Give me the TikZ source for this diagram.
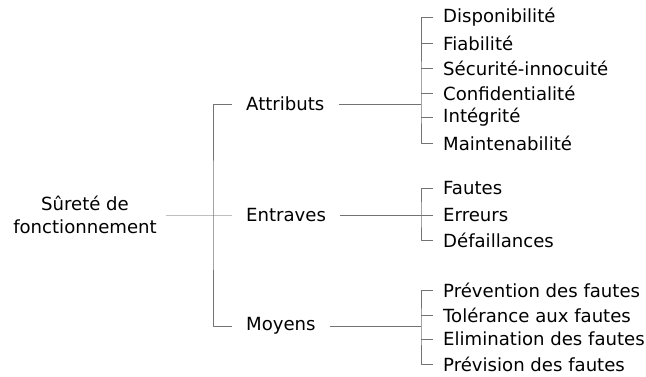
\documentclass[tikz,border=0pt]{standalone}
\usepackage{fontspec}
\setmainfont{DejaVu Sans}
\begin{document}
\begin{tikzpicture}[x=1pt,y=-1pt,line join=round,font=\fontsize{18.1}{23}\selectfont,
	branche/.style={draw=black!55,line width=0.9pt},
	racine/.style={draw=black!25,line width=0.9pt},
	groupe/.style={anchor=west,inner xsep=14pt,inner ysep=0pt},
	feuille/.style={anchor=west,inner xsep=10pt,inner ysep=0pt}]
		\useasboundingbox (0,0) rectangle (646,376);
		% racine et groupes
		\node[align=center,inner xsep=9pt] (sdf) at (85,215) {Sûreté de\\fonctionnement};
		\node[groupe] (attr) at (232,104) {Attributs};
		\node[groupe] (entr) at (232,215) {Entraves};
		\node[groupe] (moy) at (232,326) {Moyens};
		\coordinate (g) at (213,215);
		\draw[racine] (sdf) -- (entr.west);
		\draw[branche] (attr.west) -| (g) |- (moy.west);
		% attributs
		\coordinate (ga) at (421,104);
		\node[feuille] (a1) at (433,17) {Disponibilité};
		\node[feuille] (a2) at (433,43) {Fiabilité};
		\node[feuille] (a3) at (433,68) {Sécurité-innocuité};
		\node[feuille] (a4) at (433,93) {Confidentialité};
		\node[feuille] (a5) at (433,117) {Intégrité};
		\node[feuille] (a6) at (433,143) {Maintenabilité};
		\draw[branche] (attr) -- (ga);
		\draw[branche] (a1.west) -| (ga) |- (a6.west);
		\draw[branche] (ga |- a2.west) -- (a2.west);
		\draw[branche] (ga |- a3.west) -- (a3.west);
		\draw[branche] (ga |- a4.west) -- (a4.west);
		\draw[branche] (ga |- a5.west) -- (a5.west);
		% entraves
		\coordinate (ge) at (421,215);
		\node[feuille] (e1) at (433,188) {Fautes};
		\node[feuille] (e2) at (433,215) {Erreurs};
		\node[feuille] (e3) at (433,240) {Défaillances};
		\draw[branche] (entr) -- (ge);
		\draw[branche] (e1.west) -| (ge) |- (e3.west);
		\draw[branche] (ge) -- (e2.west);
		% moyens
		\coordinate (gm) at (421,326);
		\node[feuille] (m1) at (433,290) {Prévention des fautes};
		\node[feuille] (m2) at (433,315) {Tolérance aux fautes};
		\node[feuille] (m3) at (433,339) {Elimination des fautes};
		\node[feuille] (m4) at (433,364) {Prévision des fautes};
		\draw[branche] (moy) -- (gm);
		\draw[branche] (m1.west) -| (gm) |- (m4.west);
		\draw[branche] (gm |- m2.west) -- (m2.west);
		\draw[branche] (gm |- m3.west) -- (m3.west);
\end{tikzpicture}
\end{document}
